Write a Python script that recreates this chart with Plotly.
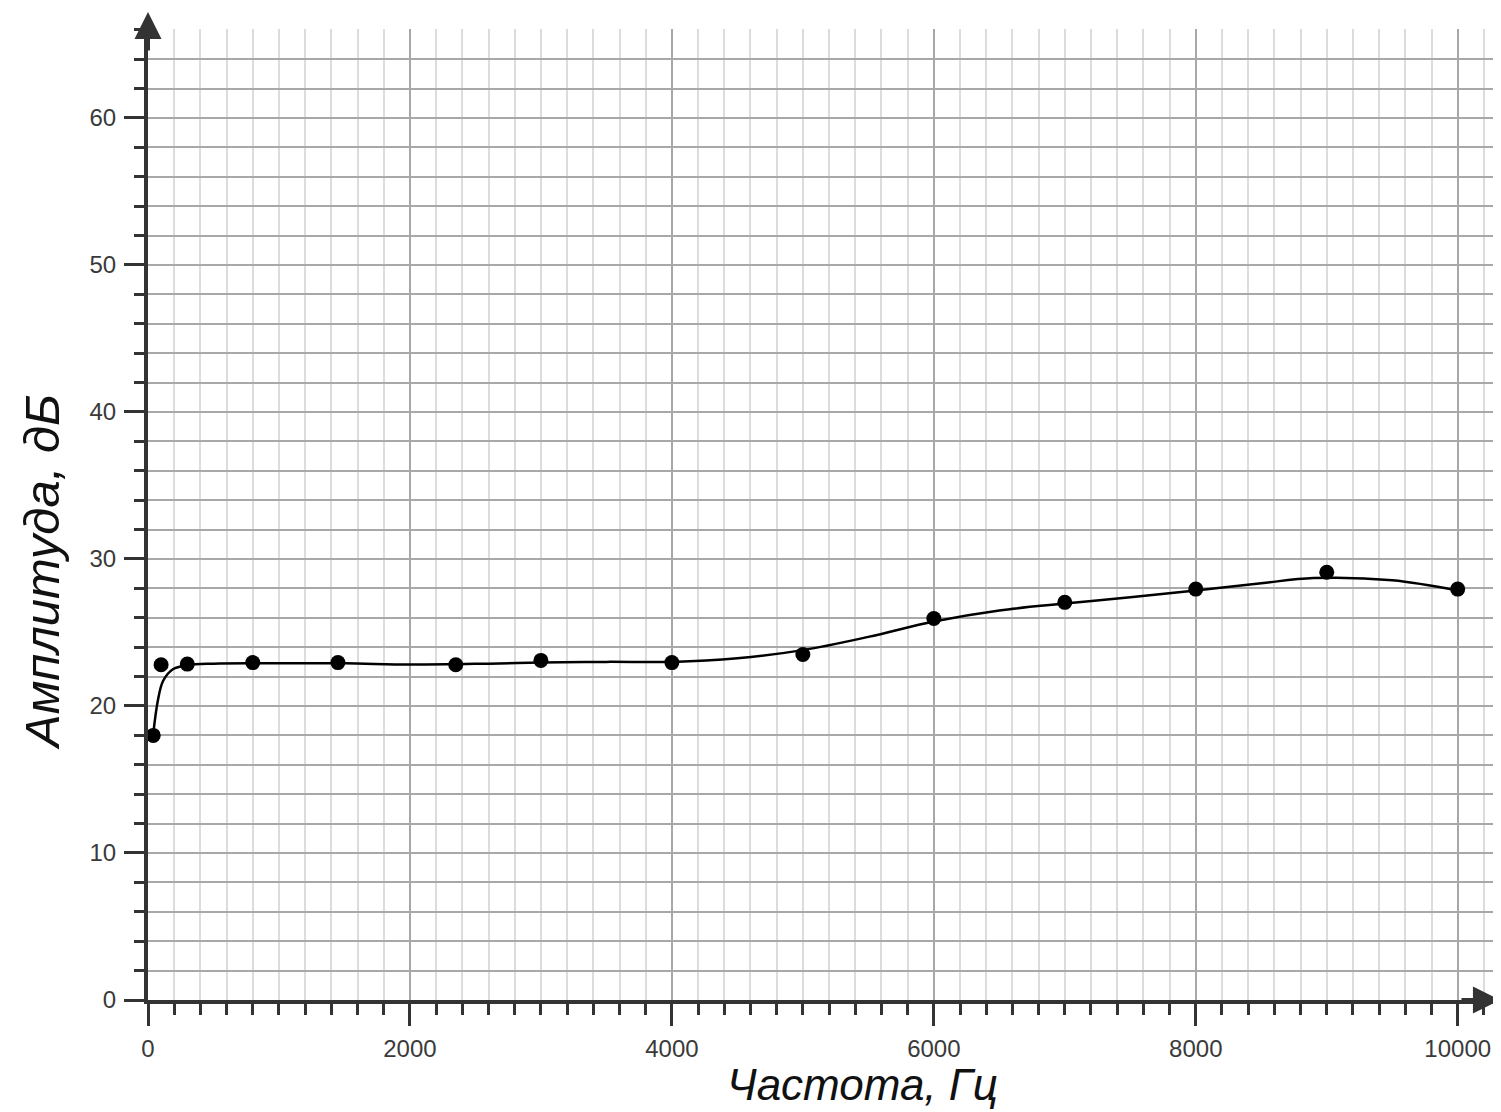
import plotly.graph_objects as go

# Measured points
freq_hz = [40, 100, 300, 800, 1450, 2350, 3000, 4000, 5000, 6000, 7000, 8000, 9000, 10000]
amp_db = [18.0, 22.8, 22.85, 22.95, 22.95, 22.8, 23.1, 22.95, 23.5, 25.95, 27.05, 27.95, 29.1, 27.95]

# Smoothed curve
curve_hz = [40, 76, 115, 190, 300, 500, 1000, 1500, 2000, 2600, 3000, 3500, 4000, 4500, 5000, 5500, 6000, 6500, 7000, 7500, 8000, 8500, 8900, 9500, 10000]
curve_db = [18.1, 20.4, 21.7, 22.5, 22.78, 22.88, 22.9, 22.9, 22.82, 22.88, 22.95, 23.0, 23.0, 23.25, 23.8, 24.7, 25.75, 26.5, 26.97, 27.4, 27.85, 28.35, 28.7, 28.55, 27.85]

x_ticks = [0, 2000, 4000, 6000, 8000, 10000]
y_ticks = [0, 10, 20, 30, 40, 50, 60]

axis_color = "#333333"
label_color = "#3a3a3a"
font_family = "Liberation Sans, Arial, sans-serif"

fig = go.Figure()
fig.add_trace(go.Scatter(
    x=curve_hz, y=curve_db, mode="lines",
    line=dict(color="black", width=2.5, shape="spline", smoothing=1.0),
    hoverinfo="skip", showlegend=False,
))
fig.add_trace(go.Scatter(
    x=freq_hz, y=amp_db, mode="markers",
    marker=dict(color="black", size=15),
    showlegend=False, cliponaxis=False,
))

fig.update_xaxes(
    range=[0, 10300], automargin=False,
    tickmode="array", tickvals=x_ticks, ticktext=[str(v) for v in x_ticks],
    ticks="outside", ticklen=22, tickwidth=3, tickcolor=axis_color,
    showgrid=True, gridcolor="#a8a8a8", gridwidth=1.5,
    minor=dict(dtick=200, tick0=0, ticks="outside", ticklen=11, tickwidth=3,
               tickcolor=axis_color, showgrid=True, gridcolor="#dcdcdc", gridwidth=1.5),
    showline=True, linecolor=axis_color, linewidth=4,
    zeroline=False,
    tickfont=dict(family=font_family, size=24, color=label_color),
    ticklabelstandoff=2,
)
fig.update_yaxes(
    range=[0, 66.05], automargin=False,
    tickmode="array", tickvals=y_ticks, ticktext=[str(v) for v in y_ticks],
    ticks="outside", ticklen=20, tickwidth=3, tickcolor=axis_color,
    showgrid=True, gridcolor="#a8a8a8", gridwidth=2,
    minor=dict(dtick=2, tick0=0, ticks="outside", ticklen=10, tickwidth=3,
               tickcolor=axis_color, showgrid=True, gridcolor="#a8a8a8", gridwidth=2),
    showline=True, linecolor=axis_color, linewidth=4,
    zeroline=False,
    tickfont=dict(family=font_family, size=24, color=label_color),
    ticklabelstandoff=3,
)

annotations = [
    # axis arrows
    dict(xref="paper", yref="paper", x=0, y=1.0175, ax=0, ay=40, text="",
         showarrow=True, arrowhead=2, arrowsize=1.35, arrowwidth=4, arrowcolor=axis_color),
    dict(xref="paper", yref="paper", x=1.0022, y=0, ax=-40, ay=0, text="",
         showarrow=True, arrowhead=2, arrowsize=1.35, arrowwidth=4, arrowcolor=axis_color),
    # axis titles
    dict(xref="paper", yref="paper", x=(863 - 148) / 1349, y=-84 / 971, yanchor="middle",
         borderpad=0,
         text="<i>Частота, Гц</i>", showarrow=False,
         font=dict(family=font_family, size=44, color="#111")),
    dict(xref="paper", yref="paper", x=(42 - 148) / 1349, y=(1000 - 572) / 971, xanchor="center",
         yanchor="middle", textangle=-90,
         text="<i>Амплитуда, дБ</i>", showarrow=False,
         font=dict(family=font_family, size=49, color="#111")),
]

fig.update_layout(
    width=1493, height=1104,
    margin=dict(l=140, r=4, t=21, b=112),
    paper_bgcolor="white", plot_bgcolor="white",
    annotations=annotations,
    showlegend=False,
)

fig.write_html("out.html")
